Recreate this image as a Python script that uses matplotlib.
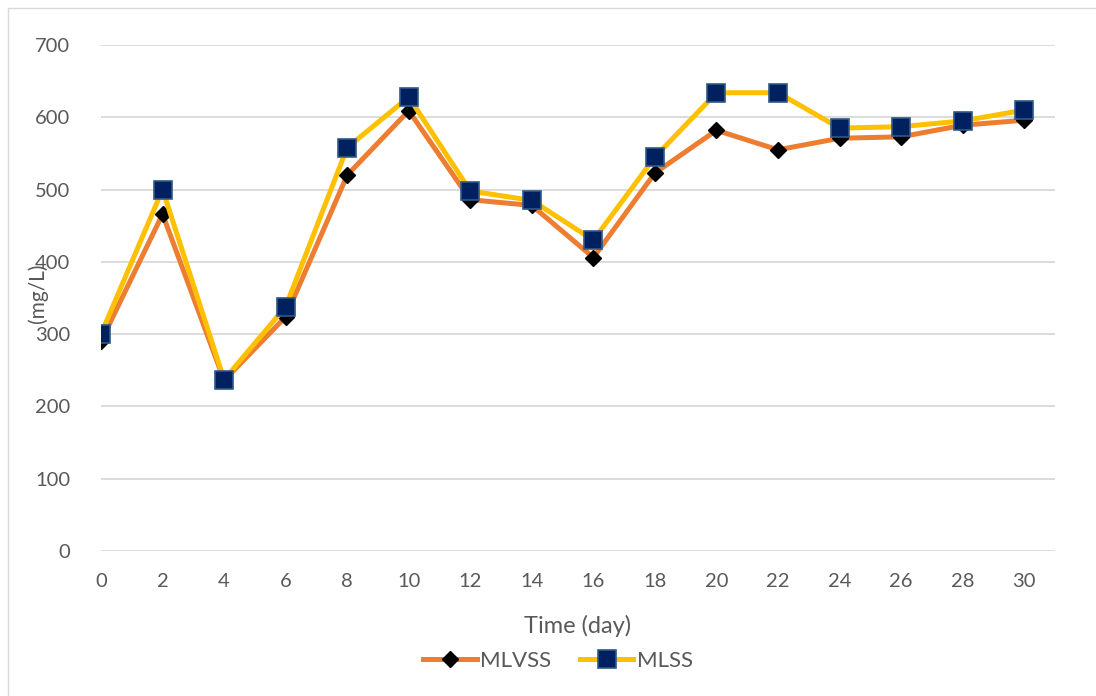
import matplotlib
matplotlib.use("Agg")
import matplotlib.pyplot as plt
from matplotlib.lines import Line2D

days = [0, 2, 4, 6, 8, 10, 12, 14, 16, 18, 20, 22, 24, 26, 28, 30]
mlvss = [290, 466, 236, 324, 520, 609, 486, 478, 406, 523, 582, 555, 571, 573, 589, 596]
mlss = [300, 500, 237, 338, 558, 628, 498, 485, 430, 545, 634, 634, 585, 587, 595, 610]
y_ticks = [0, 100, 200, 300, 400, 500, 600, 700]

plt.rcParams['font.family'] = ['Lato', 'DejaVu Sans']
txt = '#595959'

fig = plt.figure(figsize=(10.96, 6.96), dpi=100)
W, H = 1096, 696
ax = fig.add_axes([101 / W, (H - 551) / H, (1055 - 101) / W, (551 - 45) / H])

ax.plot(days, mlvss, color='#ED7D31', lw=3.6, marker='D', ms=8.5,
        mfc='black', mec='black', zorder=3, solid_joinstyle='round')
ax.plot(days, mlss, color='#FFC000', lw=3.6, marker='s', ms=12.5,
        mfc='#002060', mec='#2E5A88', mew=1.2, zorder=4, solid_joinstyle='round')

ax.set_xlim(0, 31)
ax.set_ylim(0, 700)
ax.set_xticks(days)
ax.set_yticks(y_ticks)
ax.grid(axis='y', color='#D9D9D9', lw=1.3)
ax.set_axisbelow(True)
for s in ax.spines.values():
    s.set_visible(False)
ax.tick_params(length=0, labelsize=14.5, colors=txt)
ax.tick_params(axis='y', pad=22)
ax.tick_params(axis='x', pad=16)

ax.set_xlabel('Time (day)', fontsize=17, color=txt, labelpad=18)
fig.text(38 / W, 1 - 293 / H, '(mg/L)', rotation=90, fontsize=15, color=txt,
         ha='center', va='center')

handles = [
    Line2D([], [], color='#ED7D31', lw=3.6, marker='D', ms=8.5, mfc='black', mec='black'),
    Line2D([], [], color='#FFC000', lw=3.6, marker='s', ms=12.5, mfc='#002060', mec='#2E5A88', mew=1.2),
]
fig.legend(handles, ['MLVSS', 'MLSS'], loc='center', bbox_to_anchor=(558 / W, 1 - 661 / H),
           ncol=2, frameon=False, fontsize=16, labelcolor=txt, handlelength=2.4,
           handletextpad=0.15, columnspacing=1.3)

# figure frame (left/top visible)
fig.add_artist(Line2D([8 / W, 8 / W], [0, 1 - 8 / H], transform=fig.transFigure, color='#D9D9D9', lw=1))
fig.add_artist(Line2D([8 / W, 1], [1 - 8 / H, 1 - 8 / H], transform=fig.transFigure, color='#D9D9D9', lw=1))

fig.savefig('out.png', dpi=100)
